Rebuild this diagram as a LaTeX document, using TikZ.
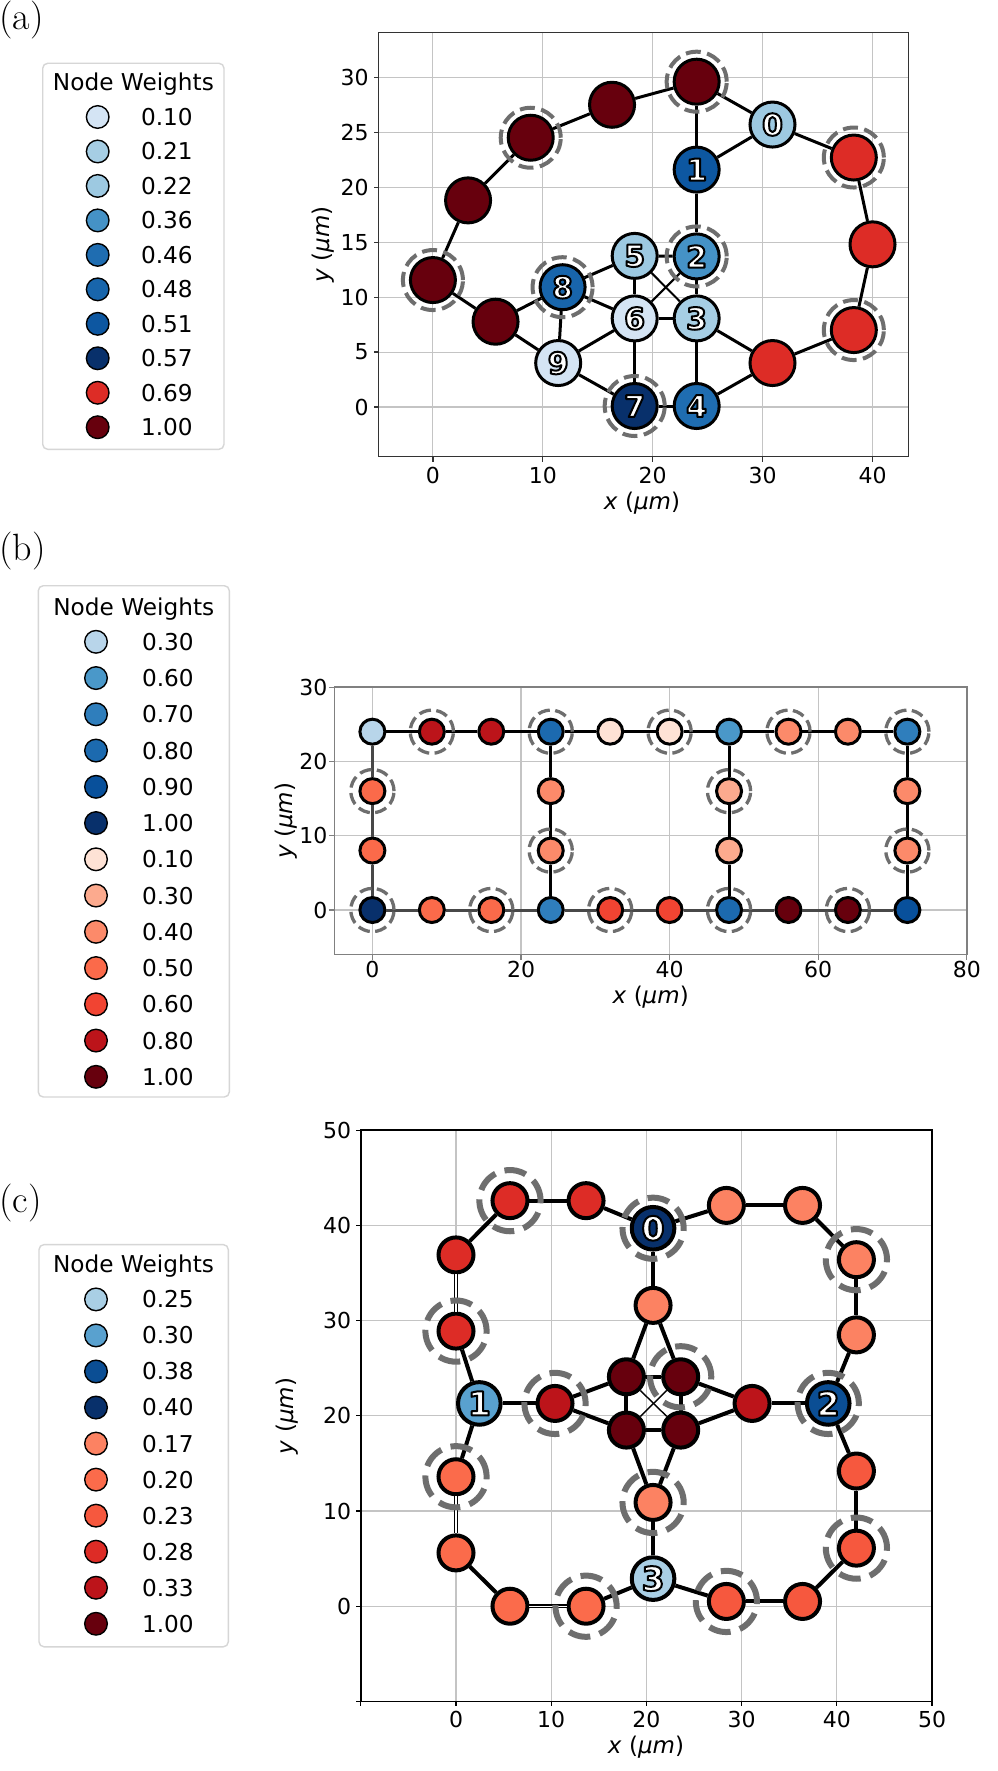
\documentclass[tikz,border=0pt]{standalone}
\usepackage{fontspec}
\newfontfamily\dv{DejaVu Sans}
\definecolor{gridc}{HTML}{C4C4C4}
\definecolor{ringc}{HTML}{6E6E6E}
\definecolor{legc}{HTML}{D6D6D6}
\definecolor{edgeg}{HTML}{484848}
\definecolor{spa}{HTML}{333333}
\definecolor{spb}{HTML}{808080}
% panel a
\definecolor{a010}{HTML}{D4E4F4}
\definecolor{a021}{HTML}{A6CEE4}
\definecolor{a022}{HTML}{9DC9E1}
\definecolor{a036}{HTML}{4592C6}
\definecolor{a046}{HTML}{1F6DB1}
\definecolor{a048}{HTML}{1865AB}
\definecolor{a051}{HTML}{0D57A1}
\definecolor{a057}{HTML}{08306B}
\definecolor{a069}{HTML}{DD2C26}
\definecolor{r100}{HTML}{67000D}
% panel b
\definecolor{bl30}{HTML}{B8D5EA}
\definecolor{bl60}{HTML}{4A98C9}
\definecolor{bl70}{HTML}{2F7EBC}
\definecolor{bl80}{HTML}{1C6AAF}
\definecolor{bl90}{HTML}{08509B}
\definecolor{bl100}{HTML}{08306B}
\definecolor{rd10}{HTML}{FEE2D5}
\definecolor{rd30}{HTML}{FCAA8E}
\definecolor{rd40}{HTML}{FC8A6A}
\definecolor{rd50}{HTML}{FB6A4A}
\definecolor{rd60}{HTML}{F14432}
\definecolor{rd80}{HTML}{BC141A}
% panel c
\definecolor{cb25}{HTML}{A9CFE5}
\definecolor{cb30}{HTML}{59A1CF}
\definecolor{cb38}{HTML}{0B4E94}
\definecolor{cb40}{HTML}{08306B}
\definecolor{cr17}{HTML}{FC8262}
\definecolor{cr20}{HTML}{FB6B4B}
\definecolor{cr23}{HTML}{F6583E}
\definecolor{cr28}{HTML}{DD2C26}
\definecolor{cr33}{HTML}{BC141A}
\newcommand\lfa{\dv\bfseries\fontsize{15}{16}\selectfont}
\newcommand\lfc{\dv\bfseries\fontsize{16.5}{17}\selectfont}
% white digit with a black outline (fill, then stroke)
\newcommand\olab[3]{%
  \node[lblw, font=#3] (#1t) at (#1) {\special{pdf:literal direct 0 0 0 RG 1 w 1 j 2 Tr}#2\special{pdf:literal direct 0 Tr 0 j}};
}
\newcommand\umx{\textit{x} (\textit{μm})}
\newcommand\umy{\textit{y} (\textit{μm})}
\begin{document}
\begin{tikzpicture}[x=0.5pt,y=-0.5pt,
  gridl/.style={draw=gridc, line width=0.55pt},
  tickm/.style={line width=0.6pt},
  tkl/.style={font=\dv\fontsize{11}{13}\selectfont, inner sep=0pt},
  axl/.style={font=\dv\fontsize{11.5}{13}\selectfont, inner sep=0pt},
  legt/.style={font=\dv\fontsize{11.6}{13}\selectfont, inner sep=0pt, anchor=west},
  legtt/.style={font=\dv\fontsize{11.6}{13}\selectfont, inner sep=0pt, anchor=base},
  legcc/.style={circle, draw=black, line width=0.7pt, minimum size=11.3pt, inner sep=0pt},
  legbox/.style={draw=legc, line width=0.7pt, rounded corners=2.5pt, fill=white},
  panlab/.style={font=\fontsize{19}{19}\selectfont, inner sep=0pt, anchor=west},
  gn/.style={circle, draw=black, inner sep=0pt},
  an/.style={gn, line width=1.5pt, minimum size=22.5pt},
  bn/.style={gn, line width=1.5pt, minimum size=12.5pt},
  cn/.style={gn, line width=2pt, minimum size=17.5pt},
  cN/.style={gn, line width=2pt, minimum size=21.3pt},
  aring/.style={draw=ringc, line width=2pt, dash pattern=on 7.5pt off 3.25pt},
  bring/.style={draw=ringc, line width=1.65pt, dash pattern=on 6pt off 2.7pt},
  cring/.style={draw=ringc, line width=3pt, dash pattern=on 11pt off 4.8pt},
  ae/.style={line width=1.5pt},
  aet/.style={line width=1pt},
  be/.style={line width=1.5pt},
  beg/.style={line width=1.5pt, draw=edgeg},
  ce/.style={line width=2pt},
  cet/.style={line width=0.7pt},
  ced/.style={line width=0.8pt, double=white, double distance=0.55pt},
  lblw/.style={text=white, inner sep=0pt},
]
\useasboundingbox[fill=white] (0,0) rectangle (997,1771);

% ---------------- panel labels
\node[panlab] (pa) at (-1,20) {(a)};
\node[panlab] (pb) at (-1,551) {(b)};
\node[panlab] (pc) at (-1,1203) {(c)};

% ---------------- legend (a)
\draw[legbox] (42.7,63.3) rectangle (224,449.3);
\node[legtt] (lta) at (133.4,90.7) {Node Weights};
\foreach \c/\v [count=\i from 0] in {a010/0.10,a021/0.21,a022/0.22,a036/0.36,a046/0.46,a048/0.48,a051/0.51,a057/0.57,a069/0.69,r100/1.00}{
  \node[legcc, fill=\c] (lca\i) at (97.7,{117+34.47*\i}) {};
  \node[legt] (lva\i) at (140.7,{117+34.47*\i}) {\v};
}

% ---------------- legend (b)
\draw[legbox] (38.3,585.7) rectangle (229.3,1097);
\node[legtt] (ltb) at (133.8,615) {Node Weights};
\foreach \c/\v [count=\i from 0] in {bl30/0.30,bl60/0.60,bl70/0.70,bl80/0.80,bl90/0.90,bl100/1.00,rd10/0.10,rd30/0.30,rd40/0.40,rd50/0.50,rd60/0.60,rd80/0.80,r100/1.00}{
  \node[legcc, fill=\c] (lcb\i) at (96,{641.8+36.25*\i}) {};
  \node[legt] (lvb\i) at (141.7,{641.8+36.25*\i}) {\v};
}

% ---------------- legend (c)
\draw[legbox] (39,1244.6) rectangle (228.3,1646.8);
\node[legtt] (ltc) at (133.5,1272) {Node Weights};
\foreach \c/\v [count=\i from 0] in {cb25/0.25,cb30/0.30,cb38/0.38,cb40/0.40,cr17/0.17,cr20/0.20,cr23/0.23,cr28/0.28,cr33/0.33,r100/1.00}{
  \node[legcc, fill=\c] (lcc\i) at (96,{1299.4+36.04*\i}) {};
  \node[legt] (lvc\i) at (141.7,{1299.4+36.04*\i}) {\v};
}

% ---------------- axis labels
\node[axl] (axa) at (642,503) {\umx};
\node[axl, rotate=90] (aya) at (323,244.5) {\umy};
\node[axl] (axb) at (650.7,996.7) {\umx};
\node[axl, rotate=90] (ayb) at (285.7,820.7) {\umy};
\node[axl] (axc) at (646,1747) {\umx};
\node[axl, rotate=90] (ayc) at (287,1416) {\umy};

% ================= PANEL A
\begin{scope}[shift={(432.9,407)}, x=5.495pt, y=5.495pt]
  \foreach \t in {0,10,...,40} \draw[gridl] (\t,-4.52) -- (\t,34.06);
  \foreach \t in {0,5,...,30} \draw[gridl] (-4.94,\t) -- (43.26,\t);
  \draw[draw=spa, line width=0.8pt] (-4.94,-4.52) rectangle (43.26,34.06);
  \foreach \t in {0,10,...,40}{
    \draw[tickm, spa] (\t,-4.52) -- ++(0,-2.5pt);
    \node[tkl] (atx\t) at ([yshift=-9.2pt]\t,-4.52) {\t};
  }
  \foreach \t in {0,5,...,30}{
    \draw[tickm, spa] (-4.94,\t) -- ++(-2.5pt,0);
    \node[tkl, anchor=east] (aty\t) at ([xshift=-4.85pt]-4.94,\t) {\t};
  }
  % nodes
  \node[an, fill=r100] (A) at (24.0,29.6) {};
  \node[an, fill=r100] (B) at (16.3,27.5) {};
  \node[an, fill=r100] (C) at (8.9,24.5) {};
  \node[an, fill=r100] (D) at (3.2,18.8) {};
  \node[an, fill=r100] (E) at (0,11.55) {};
  \node[an, fill=r100] (F) at (5.7,7.76) {};
  \node[an, fill=a010] (n9) at (11.4,4.0) {};
  \node[an, fill=a048] (n8) at (11.8,10.9) {};
  \node[an, fill=a022] (n5) at (18.36,13.75) {};
  \node[an, fill=a036] (n2) at (24.0,13.7) {};
  \node[an, fill=a010] (n6) at (18.36,8.06) {};
  \node[an, fill=a021] (n3) at (24.0,8.06) {};
  \node[an, fill=a057] (n7) at (18.36,0.09) {};
  \node[an, fill=a046] (n4) at (24.0,0.09) {};
  \node[an, fill=a051] (n1) at (24.0,21.6) {};
  \node[an, fill=a022] (n0) at (30.9,25.7) {};
  \node[an, fill=a069] (G) at (38.3,22.7) {};
  \node[an, fill=a069] (H) at (40.0,14.8) {};
  \node[an, fill=a069] (I) at (38.3,7.0) {};
  \node[an, fill=a069] (J) at (30.9,4.0) {};
  % edges
  \foreach \p/\q in {A/B,B/C,C/D,D/E,E/F,F/n9,F/n8,n9/n8,n9/n6,n9/n7,n8/n5,n8/n6,n5/n2,n5/n6,n2/n1,n2/n3,n6/n3,n6/n7,n3/n4,n7/n4,n3/J,n4/J,J/I,I/H,H/G,G/n0,n0/A,n0/n1,n1/A}
    \draw[ae] (\p) -- (\q);
  \draw[aet] (n5) -- (n3);
  \draw[aet] (n6) -- (n2);
  % rings
  \foreach \n in {A,C,E,n8,n2,n7,G,I} \draw[aring] (\n) circle (15pt);
  % labels
  \foreach \n/\l in {n0/0,n1/1,n2/2,n3/3,n4/4,n5/5,n6/6,n7/7,n8/8,n9/9} {\olab{\n}{\l}{\lfa}}
\end{scope}

% ================= PANEL B
\begin{scope}[shift={(372.4,910)}, x=3.715pt, y=3.715pt]
  \foreach \t in {0,20,40,60} \draw[gridl] (\t,-6) -- (\t,30);
  \foreach \t in {0,10,20} \draw[gridl] (-5.13,\t) -- (80,\t);
  \draw[draw=spb, line width=0.7pt] (-5.13,-6) rectangle (80,30);
  \foreach \t in {0,20,40,60,80}{
    \draw[tickm, spb] (\t,-6) -- ++(0,-2.5pt);
    \node[tkl] (btx\t) at ([yshift=-7.4pt]\t,-6) {\t};
  }
  \foreach \t in {0,10,20,30}{
    \draw[tickm, spb] (-5.13,\t) -- ++(-2.5pt,0);
    \node[tkl, anchor=east] (bty\t) at ([xshift=-3.3pt]-5.13,\t) {\t};
  }
  % nodes
  \foreach \c [count=\i from 0] in {bl30,rd80,rd80,bl80,rd10,rd10,bl60,rd40,rd40,bl70}
    \node[bn, fill=\c] (bt\i) at ({8*\i},24) {};
  \foreach \c [count=\i from 0] in {bl100,rd50,rd50,bl70,rd60,rd60,bl80,r100,r100,bl90}
    \node[bn, fill=\c] (bb\i) at ({8*\i},0) {};
  \node[bn, fill=rd50] (bv0a) at (0,16) {};
  \node[bn, fill=rd50] (bv0b) at (0,8) {};
  \node[bn, fill=rd40] (bv1a) at (24,16) {};
  \node[bn, fill=rd40] (bv1b) at (24,8) {};
  \node[bn, fill=rd30] (bv2a) at (48,16) {};
  \node[bn, fill=rd30] (bv2b) at (48,8) {};
  \node[bn, fill=rd40] (bv3a) at (72,16) {};
  \node[bn, fill=rd40] (bv3b) at (72,8) {};
  % edges
  \foreach \i [evaluate=\i as \j using int(\i+1)] in {0,...,8}{
    \draw[be] (bt\i) -- (bt\j);
    \draw[beg] (bb\i) -- (bb\j);
  }
  \draw[beg] (bt0) -- (bv0a);
  \draw[beg] (bv0a) -- (bv0b);
  \draw[beg] (bv0b) -- (bb0);
  \foreach \v/\k in {1/3,2/6,3/9}{
    \draw[be] (bt\k) -- (bv\v a);
    \draw[be] (bv\v a) -- (bv\v b);
    \draw[be] (bv\v b) -- (bb\k);
  }
  % rings
  \foreach \n in {bt1,bt3,bt5,bt7,bt9,bb0,bb2,bb4,bb6,bb8,bv0a,bv1b,bv2a,bv3b}
    \draw[bring] (\n) circle (10.8pt);
\end{scope}

% ================= PANEL C
\begin{scope}[shift={(456,1606.2)}, x=4.76pt, y=4.76pt]
  \foreach \t in {0,10,...,40} \draw[gridl] (\t,-10) -- (\t,50);
  \foreach \t in {0,10,...,40} \draw[gridl] (-10,\t) -- (50,\t);
  \draw[line width=0.75pt] (-10,-10) rectangle (50,50);
  \foreach \t in {-10,0,...,50}{
    \draw[tickm] (\t,-10) -- ++(0,-2.5pt);
    \draw[tickm] (-10,\t) -- ++(-2.5pt,0);
  }
  \foreach \t in {0,10,...,50}{
    \node[tkl] (ctx\t) at ([yshift=-9.2pt]\t,-10) {\t};
    \node[tkl, anchor=east] (cty\t) at ([xshift=-4.6pt]-10,\t) {\t};
  }
  % nodes
  \node[cN, fill=cb40] (c0) at (20.7,39.7) {};
  \node[cn, fill=cr28] (ctl1) at (5.67,42.6) {};
  \node[cn, fill=cr28] (ctl2) at (13.66,42.6) {};
  \node[cn, fill=cr28] (cl1) at (0,36.9) {};
  \node[cn, fill=cr28] (cl2) at (0,28.9) {};
  \node[cN, fill=cb30] (c1) at (2.45,21.3) {};
  \node[cn, fill=cr33] (cm1) at (10.4,21.3) {};
  \node[cn, fill=cr20] (cl3) at (0,13.6) {};
  \node[cn, fill=cr20] (cl4) at (0,5.6) {};
  \node[cn, fill=cr20] (cb1) at (5.67,0) {};
  \node[cn, fill=cr20] (cb2) at (13.66,0) {};
  \node[cN, fill=cb25] (c3) at (20.7,2.9) {};
  \node[cn, fill=cr23] (cb3) at (28.4,0.5) {};
  \node[cn, fill=cr23] (cb4) at (36.4,0.5) {};
  \node[cn, fill=cr23] (cr1) at (42.06,6.1) {};
  \node[cn, fill=cr23] (cr2) at (42.06,14.2) {};
  \node[cN, fill=cb38] (c2) at (39.1,21.3) {};
  \node[cn, fill=cr33] (cm2) at (31.1,21.3) {};
  \node[cn, fill=cr17] (cr3) at (42.06,28.5) {};
  \node[cn, fill=cr17] (cr4) at (42.06,36.4) {};
  \node[cn, fill=cr17] (ct1) at (36.4,42.1) {};
  \node[cn, fill=cr17] (ct2) at (28.4,42.1) {};
  \node[cn, fill=cr17] (cm3) at (20.7,31.6) {};
  \node[cn, fill=cr17] (cm4) at (20.7,10.9) {};
  \node[cn, fill=r100] (cx1) at (17.9,24.1) {};
  \node[cn, fill=r100] (cx2) at (23.6,24.1) {};
  \node[cn, fill=r100] (cx3) at (17.9,18.5) {};
  \node[cn, fill=r100] (cx4) at (23.6,18.5) {};
  % edges
  \foreach \p/\q in {c0/ctl2,ctl2/ctl1,ctl1/cl1,cl2/c1,c1/cl3,cl4/cb1,cb2/c3,c3/cb3,cb3/cb4,cb4/cr1,cr1/cr2,cr2/c2,c2/cr3,cr3/cr4,cr4/ct1,ct1/ct2,ct2/c0,
      c0/cm3,cm3/cx1,cm3/cx2,c1/cm1,cm1/cx1,cm1/cx3,c2/cm2,cm2/cx2,cm2/cx4,c3/cm4,cm4/cx3,cm4/cx4,
      cx1/cx2,cx1/cx3,cx2/cx4,cx3/cx4}
    \draw[ce] (\p) -- (\q);
  \draw[cet] (cx1) -- (cx4);
  \draw[cet] (cx2) -- (cx3);
  \draw[ced] (cl1) -- (cl2);
  \draw[ced] (cl3) -- (cl4);
  \draw[ced] (cb1) -- (cb2);
  % rings
  \foreach \n in {c0,ctl1,cl2,cm1,cl3,cb2,cb3,cr1,c2,cr4,cm4,cx2}
    \draw[cring] (\n) circle (15.3pt);
  % labels
  \foreach \n/\l in {c0/0,c1/1,c2/2,c3/3} {\olab{\n}{\l}{\lfc}}
\end{scope}
\end{tikzpicture}
\end{document}
